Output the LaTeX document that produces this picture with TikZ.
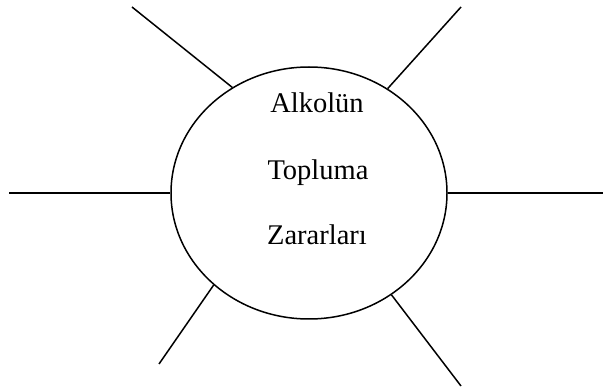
\documentclass[tikz,border=0pt]{standalone}
\usepackage{fontspec}
\setmainfont{Liberation Serif}
\usetikzlibrary{shapes.geometric}
\tikzset{
    spoke/.style={line width=1.5pt},
    word/.style={anchor=base,inner sep=0pt,font=\fontsize{28.5}{34}\selectfont}
}
\begin{document}
\begin{tikzpicture}[x=1pt,y=-1pt]
        \useasboundingbox (0,0) rectangle (603,390);
        \node [ellipse,draw,line width=1.5pt,minimum width=276pt,minimum height=252pt,inner sep=0pt] (harm) at (309,193) {};
        \node [word] (w1) at (317,113) {Alkolün};
        \node [word] (w2) at (318,180) {Topluma};
        \node [word] (w3) at (317,245) {Zararları};
        \coordinate (ul) at (132,7);
        \coordinate (ur) at (461,7);
        \coordinate (l) at (9,193);
        \coordinate (r) at (603,193);
        \coordinate (ll) at (159,364);
        \coordinate (lr) at (461,386);
        \draw [spoke] (harm.126) -- (ul);
        \draw [spoke] (harm.53) -- (ur);
        \draw [spoke] (harm.west) -- (l);
        \draw [spoke] (harm.east) -- (r);
        \draw [spoke] (harm.224) -- (ll);
        \draw [spoke] (harm.309) -- (lr);
    \end{tikzpicture}
\end{document}
